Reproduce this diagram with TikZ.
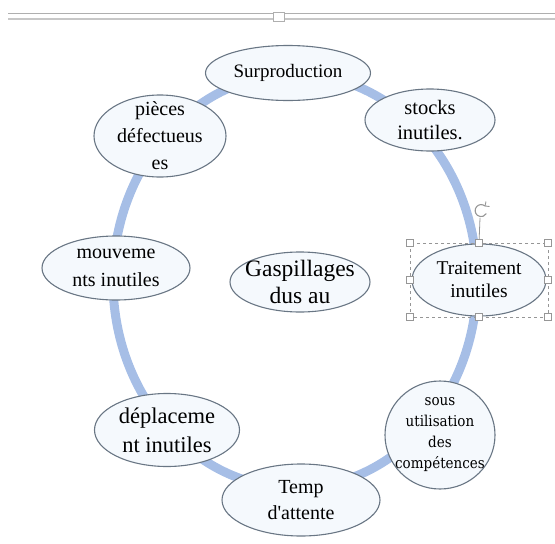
\documentclass[tikz,border=0pt]{standalone}
\usepackage{fontspec}
\setmainfont[Ligatures=TeXOff]{Liberation Serif}
\newfontfamily\slabfont{DejaVu Serif Condensed}
\usetikzlibrary{shapes.geometric}
\definecolor{ringblue}{RGB}{166,190,230}
\definecolor{edgegray}{RGB}{105,118,132}
\definecolor{bubblefill}{RGB}{245,249,253}
\definecolor{barline}{RGB}{175,175,175}
\definecolor{handlegray}{RGB}{150,150,150}
\tikzset{
  bubble/.style={ellipse, draw=edgegray, line width=1.1pt, fill=bubblefill,
    inner sep=0pt},
  words/.style={align=center, text=black, inner sep=0pt},
  handle/.style={draw=handlegray, fill=white, line width=0.7pt,
    minimum size=7pt, inner sep=0pt, rectangle},
}
\newcommand\fsz[2]{\fontsize{#1}{#2}\selectfont}
\begin{document}
\begin{tikzpicture}[x=1pt,y=-1pt]
\useasboundingbox (0,0) rectangle (555,544);
% page ruler at the top
\draw[barline, line width=1.3pt] (8,13.5) -- (555,13.5);
\draw[barline!70, line width=1.3pt] (8,19) -- (555,19);
\node[handle, draw=barline, minimum width=11pt, minimum height=9pt] (rulerhandle) at (279,17) {};
% the cycle ring behind the bubbles
\draw[ringblue, line width=9pt] (295,281) ellipse [x radius=182, y radius=207];
% bubbles: the ellipse keeps its size, the words sit on it as a centred label
\node[bubble, minimum width=165pt, minimum height=55pt,
  label={[words, font=\fsz{19}{22}]center:Surproduction}] (sur) at (288,73) {};
\node[bubble, minimum width=130pt, minimum height=62pt,
  label={[words, font=\fsz{20.5}{25}]center:{stocks\\inutiles.}}] (stocks) at (430,120) {};
\node[bubble, minimum width=132pt, minimum height=82pt,
  label={[words, font=\fsz{20}{27}]center:{pièces\\défectueus\\es}}] (pieces) at (160,136) {};
\node[bubble, minimum width=148pt, minimum height=64pt,
  label={[words, font=\fsz{20}{28}]center:{mouveme\\nts inutiles}}] (mouv) at (116,268) {};
\node[bubble, minimum width=140pt, minimum height=60pt,
  label={[words, font=\fsz{23.5}{27}]center:{Gaspillages\\dus au}}] (gasp) at (300,282) {};
\node[bubble, minimum width=134pt, minimum height=72pt,
  label={[words, font=\fsz{19.5}{23}]center:{Traitement\\inutiles}}] (trait) at (479,280) {};
\node[bubble, minimum width=110pt, minimum height=108pt,
  label={[words, font=\slabfont\fsz{15}{21}]center:{sous\\utilisation\\des\\compétences}}] (sous) at (440,435) {};
\node[bubble, minimum width=158pt, minimum height=72pt,
  label={[words, font=\fsz{20}{26}]center:{Temp\\d'attente}}] (temp) at (301,500) {};
\node[bubble, minimum width=145pt, minimum height=73pt,
  label={[words, font=\fsz{22.5}{29}]center:{déplaceme\\nt inutiles}}] (depl) at (167,430) {};
% selection frame around the selected bubble
\draw[handlegray, dashed, line width=0.7pt] (410,243) rectangle (548,317);
\coordinate (rotbase) at (479,243);
\draw[handlegray, line width=0.8pt] (rotbase) -- (480,218);
\draw[handlegray, line width=1.1pt] (485,206) arc[start angle=50, end angle=330, radius=6pt];
\draw[handlegray, line width=0.9pt] (485,206) -- (486,201.5);
\draw[handlegray, line width=0.9pt] (485,206) -- (489.5,206.5);
\foreach \hx/\hy/\hn in {410/243/a, 479/243/b, 548/243/c, 410/280/d, 548/280/e, 410/317/f, 479/317/g, 548/317/h}
  \node[handle] (sel\hn) at (\hx,\hy) {};
\end{tikzpicture}
\end{document}
